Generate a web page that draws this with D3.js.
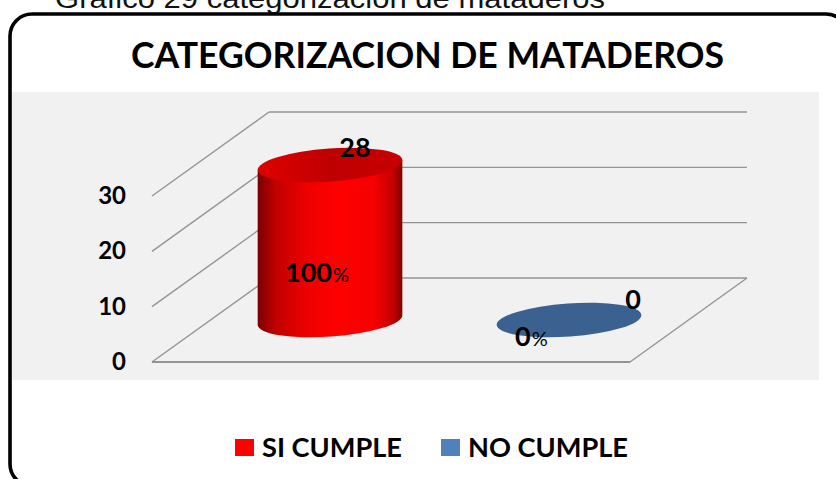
<!DOCTYPE html>
<html>
<head>
<meta charset="utf-8">
<script src="https://cdn.jsdelivr.net/npm/d3@7/dist/d3.min.js"></script>
<style>
html,body{margin:0;padding:0;background:#fff;overflow:hidden}
svg{display:block}
text{font-family:Lato,"Open Sans",sans-serif;font-weight:700;fill:#000}
</style>
</head>
<body>
<svg id="c" width="836" height="479"></svg>
<script>
const caption = "Gráfico 29 categorización de mataderos";
const title = "CATEGORIZACION DE MATADEROS";
const categories = ["SI CUMPLE", "NO CUMPLE"];
const values = [28, 0];
const percents = [100, 0];
const ticks = [0, 10, 20, 30];
const legendColors = ["#ff0000", "#4f81bd"];

const svg = d3.select("#c");
const x = d3.scaleBand().domain(categories).range([152, 630]);
const y = d3.scaleLinear().domain([0, 30]).range([362, 196]);
const depthX = 117, depthY = 84;
const rx = 72.5, ry = 16.5, tilt = -4;

const defs = svg.append("defs");
const g1 = defs.append("linearGradient").attr("id", "body");
[[0,"#7a0000"],[0.12,"#c00000"],[0.35,"#f00000"],[0.55,"#ff0000"],[0.8,"#f60000"],[0.93,"#c80000"],[1,"#800000"]]
  .forEach(d => g1.append("stop").attr("offset", d[0]).attr("stop-color", d[1]));
const g2 = defs.append("linearGradient").attr("id", "cap");
[[0,"#e00000"],[0.5,"#bf0000"],[1,"#c80000"]]
  .forEach(d => g2.append("stop").attr("offset", d[0]).attr("stop-color", d[1]));

// caption (clipped by the top of the page, as in the reference)
svg.append("text").text(caption)
  .attr("x", 55).attr("y", 8)
  .attr("textLength", 550).attr("lengthAdjust", "spacingAndGlyphs")
  .style("font-family", "'Liberation Sans',Arial,sans-serif")
  .style("font-weight", 400).style("font-size", "27px").style("fill", "#111");

// plot background
svg.append("rect").attr("x", 12).attr("y", 92).attr("width", 807).attr("height", 288).attr("fill", "#f1f1f1");

// frame
svg.append("rect").attr("x", 10).attr("y", 14).attr("width", 838).attr("height", 472)
  .attr("rx", 22).attr("ry", 22).attr("fill", "none").attr("stroke", "#000").attr("stroke-width", 3.6);

// title
svg.append("text").text(title).attr("x", 131).attr("y", 68)
  .attr("textLength", 593).attr("lengthAdjust", "spacingAndGlyphs").style("font-size", "36px");

// grid
const xL = x.range()[0], xR = x.range()[1];
const grid = svg.append("g").attr("fill", "none").attr("stroke", "#949494").attr("stroke-width", 1.4);
ticks.forEach(t => {
  grid.append("line").attr("x1", xL).attr("y1", y(t)).attr("x2", xL + depthX).attr("y2", y(t) - depthY);
  grid.append("line").attr("x1", xL + depthX).attr("y1", y(t) - depthY).attr("x2", xR + depthX).attr("y2", y(t) - depthY);
});
grid.append("line").attr("x1", xL).attr("y1", y(0)).attr("x2", xR).attr("y2", y(0)).attr("stroke-width", 2);
grid.append("line").attr("x1", xR).attr("y1", y(0)).attr("x2", xR + depthX).attr("y2", y(0) - depthY);

// tick labels
svg.selectAll(".tick").data(ticks).join("text").attr("class", "tick")
  .attr("x", 126).attr("y", d => y(d) + 8).attr("text-anchor", "end")
  .style("font-size", "24px").text(d => d);

// cylinders
const cyl = svg.append("g");
categories.forEach((c, i) => {
  const cx = x(c) + x.bandwidth() / 2 + depthX / 2;
  const by = y(0) - depthY / 2;
  const ty = y(values[i]) - depthY / 2;
  const a = tilt * Math.PI / 180;
  const dx = rx * Math.cos(a), dy = rx * Math.sin(a);
  if (values[i] > 0) {
    cyl.append("path")
      .attr("d", `M${cx - dx},${ty - dy} L${cx - dx},${by - dy} A${rx},${ry} ${tilt} 0 0 ${cx + dx},${by + dy} L${cx + dx},${ty + dy} Z`)
      .attr("fill", "url(#body)");
    cyl.append("ellipse").attr("cx", 0).attr("cy", 0).attr("rx", rx).attr("ry", ry)
      .attr("transform", `translate(${cx},${ty}) rotate(${tilt})`).attr("fill", "url(#cap)");
  } else {
    cyl.append("ellipse").attr("cx", 0).attr("cy", 0).attr("rx", rx).attr("ry", ry)
      .attr("transform", `translate(${cx},${by}) rotate(${tilt})`).attr("fill", "#3b6190");
  }
});

// value labels
const labelDx = [25, 64], labelDy = [-8, -11];
categories.forEach((c, i) => {
  const cx = x(c) + x.bandwidth() / 2 + depthX / 2;
  const top = y(values[i]) - depthY / 2;
  svg.append("text").text(values[i])
    .attr("x", cx + labelDx[i]).attr("y", top + labelDy[i]).attr("text-anchor", "middle")
    .style("font-size", "27px");
  const py = i === 0 ? 282 : 346;
  const pt = svg.append("text").attr("x", i === 0 ? 285 : 515).attr("y", py)
    .style("font-size", "27px");
  pt.append("tspan").text(percents[i]);
  pt.append("tspan").text("%").attr("dx", 1).style("font-size", "20px").style("font-weight", 400);
});

// legend
const legendX = [235, 441], legendTextW = [140, 160];
categories.forEach((c, i) => {
  svg.append("rect").attr("x", legendX[i]).attr("y", 439).attr("width", 19).attr("height", 17).attr("fill", legendColors[i]);
  svg.append("text").text(c).attr("x", legendX[i] + 27).attr("y", 457)
    .attr("textLength", legendTextW[i]).attr("lengthAdjust", "spacingAndGlyphs")
    .style("font-size", "26px");
});
</script>
</body>
</html>
